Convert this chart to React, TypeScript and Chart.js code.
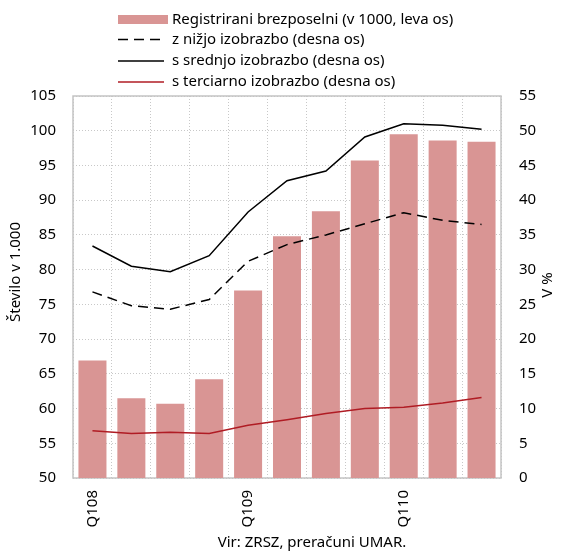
import React, { useEffect, useRef } from "react";
import { Chart, registerables } from "chart.js";

Chart.register(...registerables);

const quarters = ["Q108", "Q208", "Q308", "Q408", "Q109", "Q209", "Q309", "Q409", "Q110", "Q210", "Q310"];
const registered = [66.9, 61.5, 60.7, 64.2, 77.0, 84.8, 88.4, 95.7, 99.5, 98.6, 98.4];
const lowerEdu = [26.8, 24.8, 24.3, 25.7, 31.2, 33.6, 35.0, 36.6, 38.2, 37.1, 36.5];
const secondaryEdu = [33.4, 30.5, 29.7, 32.0, 38.3, 42.8, 44.2, 49.1, 51.0, 50.8, 50.2];
const tertiaryEdu = [6.8, 6.4, 6.6, 6.4, 7.6, 8.4, 9.3, 10.0, 10.2, 10.8, 11.6];
const seriesNames = [
  "Registrirani brezposelni (v 1000, leva os)",
  "z nižjo izobrazbo (desna os)",
  "s srednjo izobrazbo (desna os)",
  "s terciarno izobrazbo (desna os)",
];
const leftTitle = "Število v 1.000";
const rightTitle = "V %";
const sourceText = "Vir: ZRSZ, preračuni UMAR.";

const FONT = "'Noto Sans', sans-serif";

const overlay = {
  id: "overlay",
  beforeDatasetsDraw(chart: any) {
    const { ctx, chartArea: a } = chart;
    ctx.save();
    ctx.strokeStyle = "#c4c4c4";
    ctx.lineWidth = 1.5;
    ctx.strokeRect(a.left, a.top, a.right - a.left, a.bottom - a.top);
    ctx.restore();
  },
  afterDraw(chart: any) {
    const { ctx } = chart;
    ctx.save();
    // legend
    ctx.font = `15px ${FONT}`;
    ctx.textBaseline = "middle";
    ctx.textAlign = "left";
    const rows = [19.5, 39.5, 61, 82];
    chart.data.datasets.forEach((ds: any, i: number) => {
      const y = rows[i];
      if (ds.type === "bar") {
        ctx.fillStyle = ds.backgroundColor;
        ctx.fillRect(118, y - 4.5, 50, 9);
      } else {
        ctx.strokeStyle = ds.borderColor;
        ctx.lineWidth = ds.borderWidth;
        ctx.setLineDash(ds.borderDash || []);
        ctx.beginPath();
        ctx.moveTo(118, y);
        ctx.lineTo(164, y);
        ctx.stroke();
        ctx.setLineDash([]);
      }
      ctx.fillStyle = "#000";
      ctx.fillText(ds.label, 172, y);
    });
    // axis titles
    ctx.font = `15px ${FONT}`;
    ctx.textAlign = "center";
    ctx.save();
    ctx.translate(16, 272);
    ctx.rotate(-Math.PI / 2);
    ctx.fillText(leftTitle, 0, 0);
    ctx.restore();
    ctx.save();
    ctx.translate(548, 285);
    ctx.rotate(-Math.PI / 2);
    ctx.fillText(rightTitle, 0, 0);
    ctx.restore();
    // source
    ctx.font = `15px ${FONT}`;
    ctx.fillText(sourceText, 312, 543);
    ctx.restore();
  },
};

export default function App() {
  const ref = useRef<HTMLCanvasElement>(null);
  useEffect(() => {
    if (!ref.current) return;
    const chart = new Chart(ref.current, {
      type: "bar",
      data: {
        labels: quarters,
        datasets: [
          {
            type: "bar",
            label: seriesNames[0],
            data: registered,
            backgroundColor: "#d99594",
            yAxisID: "y",
            barPercentage: 0.72,
            categoryPercentage: 1,
            order: 10,
          } as any,
          {
            type: "line",
            label: seriesNames[1],
            data: lowerEdu,
            borderColor: "#000000",
            borderWidth: 1.5,
            borderDash: [10, 6],
            pointRadius: 0,
            yAxisID: "y1",
            order: 3,
          },
          {
            type: "line",
            label: seriesNames[2],
            data: secondaryEdu,
            borderColor: "#000000",
            borderWidth: 1.5,
            pointRadius: 0,
            yAxisID: "y1",
            order: 2,
          },
          {
            type: "line",
            label: seriesNames[3],
            data: tertiaryEdu,
            borderColor: "#b01c24",
            borderWidth: 1.5,
            pointRadius: 0,
            yAxisID: "y1",
            order: 1,
          },
        ],
      },
      options: {
        animation: false,
        responsive: false,
        maintainAspectRatio: false,
        layout: { padding: { top: 96, left: 0, right: 0, bottom: 0 } },
        plugins: { legend: { display: false }, tooltip: { enabled: false } },
        scales: {
          x: {
            grid: { display: true, color: "#c8c8c8", drawTicks: false, offset: true },
            border: { display: false, dash: [1, 2] },
            ticks: {
              autoSkip: false,
              minRotation: 90,
              maxRotation: 90,
              padding: 12,
              color: "#000",
              font: { family: FONT, size: 15 },
              callback: (_v: any, i: number) => (i % 4 === 0 ? quarters[i] : ""),
            },
            afterFit: (s: any) => {
              s.height = 75;
            },
          },
          y: {
            position: "left",
            min: 50,
            max: 105,
            grid: { color: "#c8c8c8", drawTicks: false },
            border: { display: false, dash: [1, 2] },
            ticks: { stepSize: 5, padding: 17, color: "#000", font: { family: FONT, size: 15 } },
            afterFit: (s: any) => {
              s.width = 73;
            },
          },
          y1: {
            position: "right",
            min: 0,
            max: 55,
            grid: { display: false, drawTicks: false },
            border: { display: false },
            ticks: { stepSize: 5, padding: 18, color: "#000", font: { family: FONT, size: 15 } },
            afterFit: (s: any) => {
              s.width = 62;
            },
          },
        },
      },
      plugins: [overlay],
    });
    return () => chart.destroy();
  }, []);
  return (
    <div style={{ position: "absolute", left: 0, top: 0, width: 563, height: 553 }}>
      <canvas ref={ref} width={563} height={553} style={{ display: "block" }} />
    </div>
  );
}
